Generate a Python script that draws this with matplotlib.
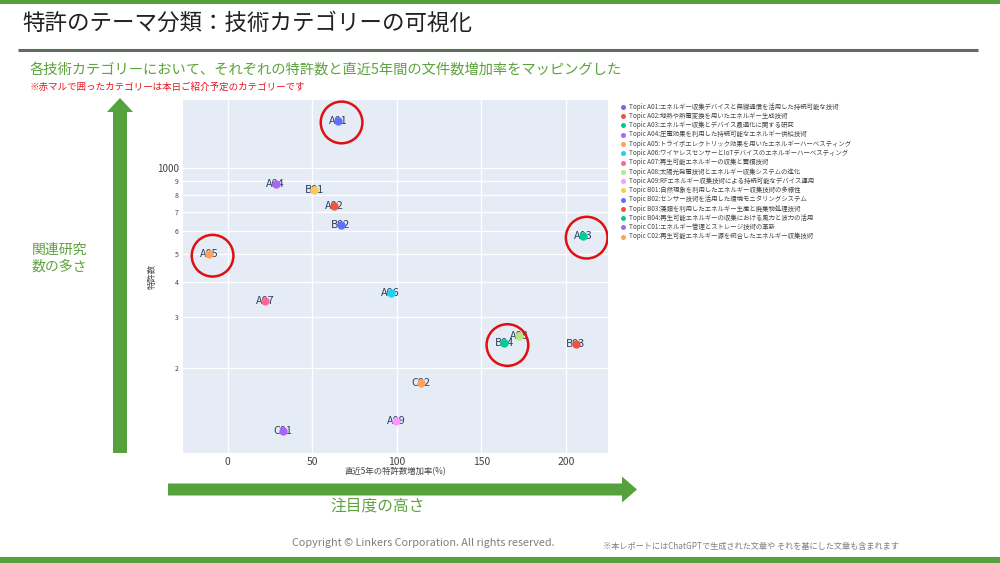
import matplotlib
matplotlib.use("Agg")
import matplotlib.pyplot as plt
from matplotlib.patches import Polygon, Rectangle
from matplotlib.ticker import FixedLocator, FixedFormatter, NullLocator

plt.rcParams['font.family'] = ['Noto Sans CJK JP', 'DejaVu Sans']

# ---------------- data ----------------
codes = ["A01", "A02", "A03", "A04", "A05", "A06", "A07", "A08", "A09",
         "B01", "B02", "B03", "B04", "C01", "C02"]
topic_names = [
    "エネルギー収集デバイスと無線通信を活用した持続可能な技術",
    "地熱や熱電変換を用いたエネルギー生成技術",
    "エネルギー収集とデバイス最適化に関する研究",
    "圧電効果を利用した持続可能なエネルギー供給技術",
    "トライボエレクトリック効果を用いたエネルギーハーベスティング",
    "ワイヤレスセンサーとIoTデバイスのエネルギーハーベスティング",
    "再生可能エネルギーの収集と蓄積技術",
    "太陽光発電技術とエネルギー収集システムの進化",
    "RFエネルギー収集技術による持続可能なデバイス運用",
    "自然現象を利用したエネルギー収集技術の多様性",
    "センサー技術を活用した環境モニタリングシステム",
    "藻類を利用したエネルギー生産と廃棄物処理技術",
    "再生可能エネルギーの収集における風力と波力の活用",
    "エネルギー管理とストレージ技術の革新",
    "再生可能エネルギー源を統合したエネルギー収集技術",
]
growth_rate = [65.4, 63.1, 210.4, 28.4, -10.9, 96.4, 22.1, 172.5, 99.6,
               51.3, 67.0, 205.9, 163.5, 32.9, 114.2]
patent_count = [1458, 736, 578, 877, 500, 365, 341, 259, 131,
                836, 632, 242, 244, 121, 177]
colors = ["#636EFA", "#EF553B", "#00CC96", "#AB63FA", "#FFA15A", "#19D3F3",
          "#FF6692", "#B6E880", "#FF97FF", "#FECB52", "#636EFA", "#EF553B",
          "#00CC96", "#AB63FA", "#FFA15A"]
highlighted = ["A01", "A03", "A05", "B04"]

x_ticks = [0, 50, 100, 150, 200]
y_ticks = [200, 300, 400, 500, 600, 700, 800, 900, 1000]
y_tick_labels = ["2", "3", "4", "5", "6", "7", "8", "9", "1000"]

title = "特許のテーマ分類：技術カテゴリーの可視化"
subtitle = "各技術カテゴリーにおいて、それぞれの特許数と直近5年間の文件数増加率をマッピングした"
note = "※赤マルで囲ったカテゴリーは本日ご紹介予定のカテゴリーです"
x_title = "直近5年の特許数増加率(%)"
y_title = "特許数"
v_arrow_label = "関連研究\n数の多さ"
h_arrow_label = "注目度の高さ"
copyright_text = "Copyright © Linkers Corporation. All rights reserved."
disclaimer = "※本レポートにはChatGPTで生成された文章や それを基にした文章も含まれます"

# ---------------- figure ----------------
W, H = 1000, 563
fig = plt.figure(figsize=(W / 100, H / 100), dpi=100)
fig.patch.set_facecolor("white")

# background overlay in pixel coordinates
bg = fig.add_axes([0, 0, 1, 1], zorder=0)
bg.set_xlim(0, W)
bg.set_ylim(H, 0)
bg.axis("off")

GREEN = "#55A13B"
bg.add_patch(Rectangle((0, 0), W, 4, color=GREEN, lw=0))
bg.add_patch(Rectangle((0, 557), W, 6, color=GREEN, lw=0))
bg.plot([18, 978], [50, 50], color="#5E6B5E", lw=2.2, solid_capstyle="butt")

bg.text(22, 23, title, fontsize=16.2, color="#222222", va="center", ha="left")
bg.text(30, 70, subtitle, fontsize=10.3, color="#5BA33B", va="center", ha="left")
bg.text(30, 87, note, fontsize=6.8, color="#E8141B", va="center", ha="left")

# vertical arrow
vx = 120
bg.add_patch(Polygon([(vx - 7, 453), (vx + 7, 453), (vx + 7, 112), (vx + 13, 112),
                      (vx, 98), (vx - 13, 112), (vx - 7, 112)],
                     closed=True, color=GREEN, lw=0))
bg.text(32, 258, v_arrow_label, fontsize=10, color="#5BA33B", va="center",
        ha="left", linespacing=1.25)

# horizontal arrow
hy = 489.5
bg.add_patch(Polygon([(168, hy - 6), (622, hy - 6), (622, hy - 13), (637, hy),
                      (622, hy + 13), (622, hy + 6), (168, hy + 6)],
                     closed=True, color=GREEN, lw=0))
bg.text(330, 506, h_arrow_label, fontsize=11.3, color="#5BA33B", va="center", ha="left")

bg.text(292, 543, copyright_text, fontsize=7.8, color="#7F7F7F", va="center", ha="left")
bg.text(603, 546, disclaimer, fontsize=5.9, color="#7F7F7F", va="center", ha="left")

# ---------------- main scatter ----------------
ax = fig.add_axes([183 / W, 1 - 453 / H, 425 / W, 353 / H], zorder=2)
ax.set_facecolor("#E5ECF6")
ax.set_yscale("log")
ax.set_xlim(-26.4, 225)
ax.set_ylim(101, 1720)

handles = []
for c, name, xv, yv, col in zip(codes, topic_names, growth_rate, patent_count, colors):
    h = ax.scatter([xv], [yv], s=36, color=col, zorder=4, linewidths=0,
                   label=f"Topic {c}:{name}")
    handles.append(h)
    ax.text(xv, yv, c, fontsize=7.8, color="#2A3F5F", ha="center", va="center", zorder=3)

for c, xv, yv in zip(codes, growth_rate, patent_count):
    if c in highlighted:
        ax.scatter([xv + 2], [yv * 0.985], s=900, facecolors="none",
                   edgecolors="#E01010", linewidths=1.8, zorder=5)

ax.xaxis.set_major_locator(FixedLocator(x_ticks))
ax.yaxis.set_major_locator(FixedLocator(y_ticks))
ax.yaxis.set_major_formatter(FixedFormatter(y_tick_labels))
ax.yaxis.set_minor_locator(NullLocator())
ax.grid(True, color="white", lw=1)
ax.set_axisbelow(True)
for sp in ax.spines.values():
    sp.set_visible(False)
ax.tick_params(axis="both", length=0, colors="#444444")
ax.tick_params(axis="x", labelsize=7.5, pad=3)
ax.tick_params(axis="y", labelsize=5, pad=3)
for lbl in ax.get_yticklabels():
    if lbl.get_text() == "1000":
        lbl.set_fontsize(7)
ax.set_xlabel(x_title, fontsize=6, color="#444444", labelpad=0)
ax.set_ylabel(y_title, fontsize=6, color="#444444", labelpad=0)

fig.legend(handles=handles, loc="upper left", bbox_to_anchor=(617 / W, 1 - 100 / H),
           frameon=False, fontsize=4.6, labelspacing=0.2, handletextpad=0.5,
           markerscale=0.6, borderaxespad=0, handlelength=1.0, labelcolor="#444444")

fig.savefig("out.png", dpi=100)
